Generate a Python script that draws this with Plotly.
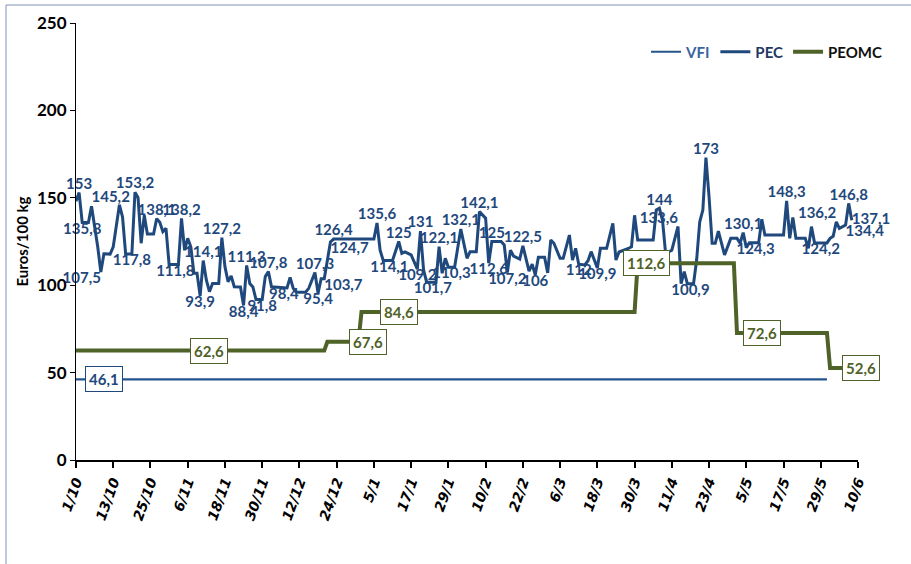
import plotly.graph_objects as go

# ---------------- data ----------------
tick_labels = ["1/10", "13/10", "25/10", "6/11", "18/11", "30/11", "12/12", "24/12",
               "5/1", "17/1", "29/1", "10/2", "22/2", "6/3", "18/3", "30/3",
               "11/4", "23/4", "5/5", "17/5", "29/5", "10/6"]
tick_days = [12 * i for i in range(len(tick_labels))]

# PEC: day index from 1/10 and price (Euros/100 kg)
pec_day = [0, 1, 2, 4, 5, 7, 8, 9, 11, 12, 14, 15, 16, 18, 19, 20, 21, 22, 23, 25,
           26, 27, 28, 29, 30, 32, 33, 34, 35, 36, 37, 38, 39, 40, 41, 42, 43, 44, 46, 47,
           48, 49, 50, 51, 53, 54, 55, 56, 57, 58, 60, 61, 62, 63, 67, 68, 69, 70, 71, 74,
           75, 77, 78, 79, 80, 81, 82, 83, 84, 96, 97, 98, 99, 101, 102, 104, 105, 106, 108, 110,
           111, 112, 113, 115, 116, 117, 118, 119, 120, 121, 122, 124, 125, 126, 127, 129, 130, 132, 133, 134,
           137, 138, 139, 140, 141, 143, 144, 146, 147, 148, 149, 151, 152, 153, 154, 156, 157, 159, 160, 161,
           162, 164, 165, 166, 168, 169, 171, 173, 174, 175, 178, 179, 180, 181, 186, 187, 188, 189, 190, 192,
           194, 195, 196, 197, 198, 199, 200, 201, 202, 203, 204, 205, 206, 207, 209, 211, 213, 214, 215, 216,
           217, 219, 220, 221, 222, 228, 229, 230, 231, 232, 235, 236, 237, 238, 240, 242, 243, 244, 245, 246,
           248, 249, 250]
pec_val = [148, 153, 135.8, 135.8, 145.2, 122, 107.5, 118, 117.8, 122, 146, 139, 117.8, 117.8, 153.2, 150, 124, 140, 129.3, 129.3,
           138.1, 136, 130.6, 132.5, 111.8, 111.8, 111.8, 138.2, 120, 126.8, 122, 106.8, 106.8, 93.9, 114.1, 103, 96.3, 101, 101, 127.2,
           110.6, 102, 105.3, 99.1, 99, 88.4, 111.3, 101, 99, 91.8, 91.8, 104.9, 107.8, 99.1, 98.4, 98.4, 104.5, 98.2, 96, 96,
           98.2, 107.3, 95.4, 103.7, 103.7, 114, 124.7, 126.4, 126.4, 126.4, 135.6, 120, 114.1, 114.1, 114.1, 125, 118.2, 119, 117.3, 109.2,
           131, 108.7, 101.7, 101.7, 101.7, 122.1, 106.8, 115.4, 110.3, 110.3, 110.3, 132.1, 124, 115.4, 119.2, 119.2, 142.1, 138.3, 112.6, 125,
           125, 123, 107.2, 120, 116.7, 115, 122.5, 108, 112, 106, 116, 116, 107, 125.9, 124, 115.4, 115.4, 128.7, 114.4, 121.1,
           112, 111.6, 114, 119.2, 109.9, 121.1, 121.1, 135.4, 114.4, 119, 121, 122, 140, 125.9, 125.9, 143, 144, 137.3, 118.2, 120,
           133.6, 100.9, 107.7, 100.9, 100.9, 100.9, 114.4, 136.3, 143, 173, 150.6, 124, 124, 131, 117.3, 126.8, 126.8, 124, 130.1, 121.5,
           124.3, 124.3, 124.3, 137.7, 128.7, 128.7, 148.3, 126.8, 138.8, 126.8, 126.8, 121.1, 133.5, 124.2, 124.2, 124.2, 126.8, 128, 136.2, 132.5,
           134.4, 146.8, 137.1]

# PEC data labels (which days are labelled, and where the label sits)
pec_label_day = [1, 2, 5, 8, 18, 19, 26, 32, 34, 40, 41, 47, 54, 55, 60, 62, 67, 77, 78, 80,
                 82, 83, 97, 101, 104, 110, 111, 115, 117, 121, 124, 130, 133, 134, 139, 144, 148, 162, 168, 188,
                 194, 198, 203, 215, 219, 229, 240, 245, 248, 249, 250]
pec_label_pos = ["top center", "bottom center", "top right", "bottom left", "bottom center", "top center",
                 "top center", "bottom center", "top center", "bottom center", "top center", "top center",
                 "bottom center", "top center", "bottom center", "top center", "bottom center", "top center",
                 "bottom center", "bottom right", "bottom right", "top center", "top center", "bottom center",
                 "top center", "bottom center", "top center", "bottom center", "top center", "bottom center",
                 "top center", "top center", "bottom center", "top center", "bottom center", "top center",
                 "bottom center", "bottom center", "bottom center", "top center", "top left", "bottom center",
                 "top center", "top center", "bottom center", "top center", "bottom center", "top left",
                 "bottom right", "top center", "middle right"]

# VFI
vfi_day = [0, 242]
vfi_val = [46.1, 46.1]
vfi_label_day = 9

# PEOMC (step series)
peomc_day = [0, 80, 81, 91, 92, 180, 181, 212, 213, 242, 243, 251]
peomc_val = [62.6, 62.6, 67.6, 67.6, 84.6, 84.6, 112.6, 112.6, 72.6, 72.6, 52.6, 52.6]
peomc_label_day = [43, 94, 104, 184, 221, 253]
peomc_label_val = [62.6, 67.6, 84.6, 112.6, 72.6, 52.6]

# ---------------- styles ----------------
C_PEC = "#1f497d"
C_VFI = "#24548c"
C_PEOMC = "#4f6228"
FONT = "Lato"
X_MAX = 252

L, R, T, B = 76, 53, 23, 104
W, H = 911, 564
pw, ph = W - L - R, H - T - B
px_per_day = pw / X_MAX


def fmt(v):
    return f"{v:g}".replace(".", ",")


fig = go.Figure()

fig.add_trace(go.Scatter(
    x=vfi_day, y=vfi_val, mode="lines",
    name="<span style='color:#3a64a0'>VFI</span>",
    line=dict(color=C_VFI, width=2.2), cliponaxis=False))

fig.add_trace(go.Scatter(
    x=pec_day, y=pec_val, mode="lines",
    name="<span style='color:#1f3864'>PEC</span>",
    line=dict(color=C_PEC, width=3), cliponaxis=False))

fig.add_trace(go.Scatter(
    x=peomc_day, y=peomc_val, mode="lines",
    name="<span style='color:#111111'>PEOMC</span>",
    line=dict(color=C_PEOMC, width=4), cliponaxis=False))

# PEC data labels
lookup = dict(zip(pec_day, pec_val))
lbl_y = [lookup[d] for d in pec_label_day]
fig.add_trace(go.Scatter(
    x=pec_label_day, y=lbl_y, mode="text",
    text=[fmt(v) for v in lbl_y], textposition=pec_label_pos,
    textfont=dict(family=FONT, size=15, color=C_PEC, weight="bold"),
    showlegend=False, hoverinfo="skip", cliponaxis=False))

annotations = []
annotations.append(dict(
    x=vfi_label_day, y=vfi_val[0], xref="x", yref="y", text=fmt(vfi_val[0]),
    showarrow=False, bgcolor="white", bordercolor=C_PEC, borderwidth=1, borderpad=3,
    font=dict(family=FONT, size=15, color=C_PEC, weight="bold")))
for d, v in zip(peomc_label_day, peomc_label_val):
    xd = min(d, X_MAX)
    annotations.append(dict(
        x=xd, y=v, xref="x", yref="y", text=fmt(v), xshift=(d - xd) * px_per_day,
        showarrow=False, bgcolor="white", bordercolor=C_PEOMC, borderwidth=1, borderpad=3,
        font=dict(family=FONT, size=15, color=C_PEOMC, weight="bold")))

fig.update_layout(
    width=W, height=H,
    margin=dict(l=L, r=R, t=T, b=B, autoexpand=False),
    paper_bgcolor="white", plot_bgcolor="white",
    showlegend=True,
    legend=dict(orientation="h", x=(888 - L) / pw, xanchor="right",
                y=(H - B - 52) / ph, yanchor="middle",
                font=dict(family=FONT, size=15, weight="bold"),
                bgcolor="rgba(0,0,0,0)", itemwidth=30, tracegroupgap=0),
    annotations=annotations,
    shapes=[dict(type="rect", xref="paper", yref="paper",
                 x0=(6 - L) / pw, x1=(915 - L) / pw,
                 y0=(H - B - 580) / ph, y1=(H - B - 5) / ph,
                 line=dict(color="#8094b4", width=1), fillcolor="rgba(0,0,0,0)",
                 layer="below")],
)

fig.update_xaxes(
    range=[0, X_MAX], tickvals=tick_days, ticktext=tick_labels, tickangle=-70,
    ticks="outside", ticklen=6, tickwidth=1.5, tickcolor="black",
    showline=True, linecolor="black", linewidth=2, showgrid=False, zeroline=False,
    tickfont=dict(family="DejaVu Sans", size=14, color="black", weight="bold", style="italic"),
)
fig.update_yaxes(
    range=[0, 250], dtick=50, ticks="outside", ticklen=5, tickcolor="black",
    showline=True, linecolor="black", linewidth=1, showgrid=False, zeroline=False,
    tickfont=dict(family=FONT, size=17, color="black", weight="bold"),
    title=dict(text="Euros/100 kg", standoff=4,
               font=dict(family=FONT, size=15, color="black", weight="bold")),
)

fig.write_html("out.html", config={"displayModeBar": False},
               post_script="document.body.style.margin='0';")
